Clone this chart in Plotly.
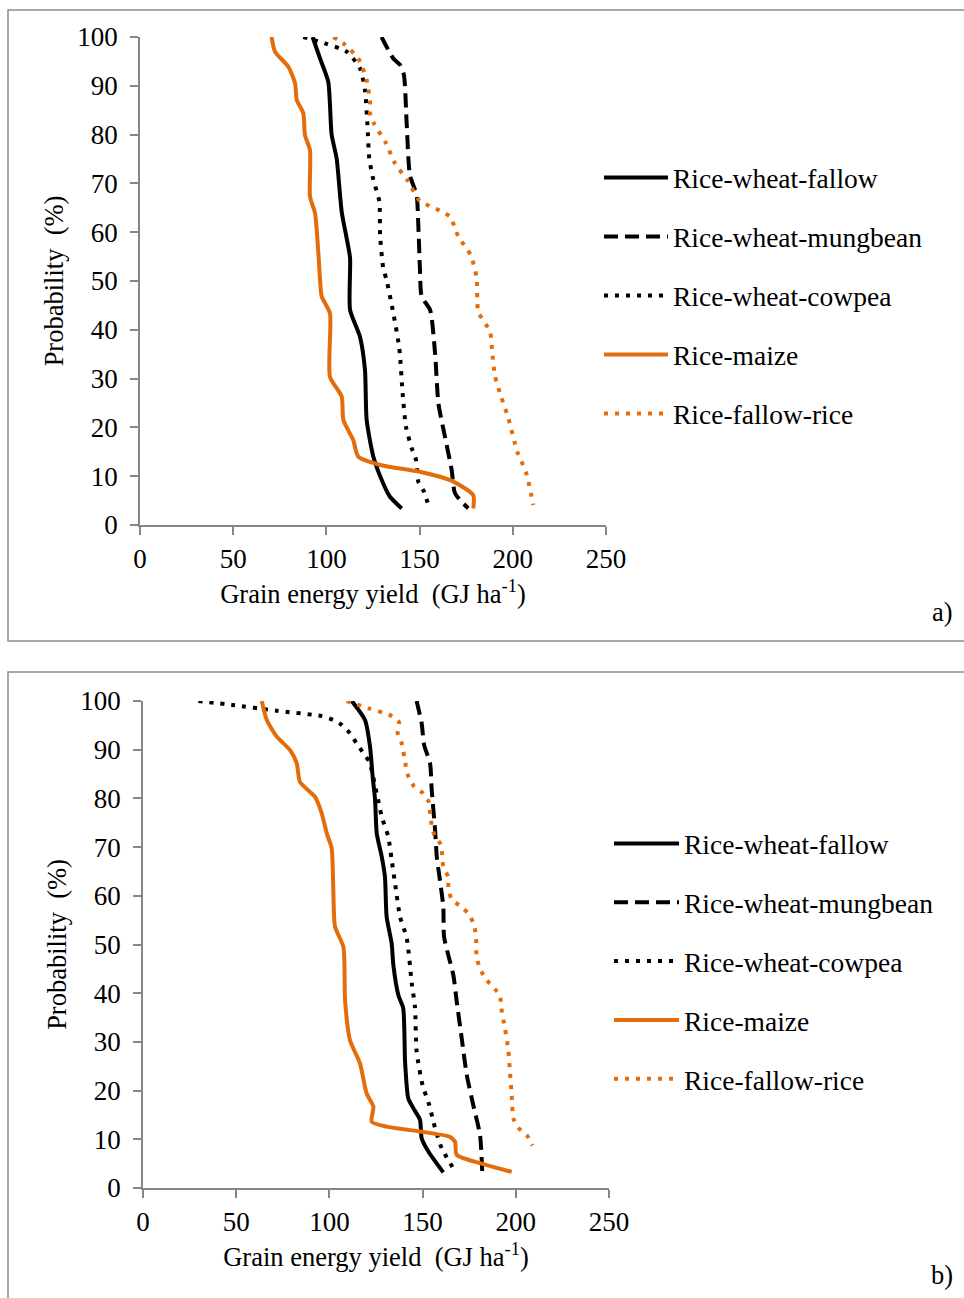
import plotly.graph_objects as go

# ---------------- data ----------------
series_names = ["Rice-wheat-fallow", "Rice-wheat-mungbean", "Rice-wheat-cowpea",
                "Rice-maize", "Rice-fallow-rice"]
x_ticks = [0, 50, 100, 150, 200, 250]
y_ticks = [0, 10, 20, 30, 40, 50, 60, 70, 80, 90, 100]

# panel a)
a_rwf_yield = [92.6, 96.6, 101, 102.8, 105.5, 108.2, 110.9, 112.7, 112.7, 118, 120.7, 121.6, 125.2, 130.5, 134.1, 140.4]
a_rwf_prob = [100, 95.6, 90.8, 80, 75.1, 64.2, 58.7, 54.7, 44.1, 38.6, 31.8, 21.5, 14, 8.5, 5.8, 3.4]

a_rwm_yield = [129.6, 132.3, 135.9, 139.5, 141.6, 143.1, 144.8, 148.4, 149.3, 150.2, 151.1, 155.6, 158.3, 160.1, 163.6, 167.2, 169, 176.1]
a_rwm_prob = [100, 98, 95.6, 94.3, 92.2, 82, 71.7, 67.6, 61.5, 52.3, 46.8, 44.1, 35.2, 24.9, 18.1, 11.3, 6.5, 3.4]

a_rwc_yield = [87.6, 99.2, 110.9, 118, 120.7, 122, 123, 125.2, 128.4, 128.8, 130.5, 132.3, 135.9, 139.1, 140.9, 142.7, 145.8, 148.1, 149.3, 152.4, 154.3]
a_rwc_prob = [100, 98.7, 97, 93.6, 89.1, 82, 75.1, 70.7, 66.3, 59.4, 52.6, 50.2, 43.4, 36.2, 27, 20.1, 15.7, 13.3, 8.9, 6.8, 4.6]

a_rm_yield = [70.6, 72.4, 79.6, 83.2, 84.1, 87.6, 88.5, 91.2, 91.2, 93.9, 95.7, 96.6, 97.5, 101.9, 101.9, 108.2, 109.1, 114.4, 117.1, 128.8, 150.2, 168.1, 178.8, 178.8]
a_rm_prob = [100, 97, 93.9, 90.5, 87.1, 84.4, 79.9, 76.8, 67.3, 63.9, 55.7, 50.2, 46.8, 43.4, 30.4, 26.3, 21.5, 17.4, 14, 12.3, 10.9, 8.9, 6.1, 3.4]

a_rfr_yield = [103.7, 109.1, 117.1, 121.6, 123.4, 123.4, 125.5, 132, 136.8, 143.9, 149.9, 160.9, 166.3, 170.8, 177.4, 180.6, 181.5, 187.8, 189, 190.5, 194, 197.6, 202.4, 207.1, 211]
a_rfr_prob = [100, 98.7, 95.6, 91.2, 86.7, 84.4, 82.3, 78.2, 74.1, 70.4, 66.5, 64.4, 63.2, 59.1, 55.3, 50.7, 43.7, 39.6, 35.2, 30.4, 26, 21.9, 15, 10.8, 4.1]

# panel b)
b_rwf_yield = [112, 119.1, 121.8, 123.2, 124.5, 125.4, 128.1, 129.8, 130.7, 133.4, 134.3, 137, 139.6, 140.6, 142.3, 145, 148.6, 149.5, 153.1, 161.1]
b_rwf_prob = [100, 96.1, 90.6, 84.5, 79.7, 72.8, 68, 63.9, 55.7, 50.2, 45.8, 39.6, 36.9, 25.9, 18.4, 16.4, 14, 10.2, 7.5, 3.2]

b_rwm_yield = [146.8, 149.5, 150.8, 154, 154.9, 156.7, 157.6, 159.3, 161.1, 161.5, 163.8, 166.5, 168.3, 171, 173.7, 177.2, 180.8, 182]
b_rwm_prob = [100, 95.4, 91, 87.2, 81.7, 73.5, 68, 63.2, 57.8, 51.6, 47.8, 43.7, 38.3, 30.7, 23.2, 17, 10.9, 3.3]

b_rwc_yield = [29.7, 47.6, 71.7, 95.9, 102.1, 106.6, 111, 114.6, 118.2, 121.4, 125.4, 128.1, 131.6, 133.4, 135.2, 137.9, 141.5, 144.2, 145.9, 146.8, 150, 153.6, 156.7, 160.2, 166.5]
b_rwc_prob = [100, 99.2, 98, 96.9, 96.1, 95.1, 93.4, 91.3, 89.3, 87.5, 81, 76.2, 72.1, 67.4, 62.6, 55.7, 51.3, 42, 37.2, 28, 21.1, 17, 12.3, 8.2, 4]

b_rm_yield = [63.7, 66.4, 71.7, 78.9, 82.5, 84.2, 92.3, 95.9, 98.6, 101.2, 102.1, 103, 107.5, 108.4, 111, 116.4, 120, 123.6, 122.7, 130.7, 148.6, 164.7, 167.4, 168.3, 180.8, 197.8]
b_rm_prob = [100, 96.1, 92.7, 89.9, 87.2, 83.4, 80.3, 76.9, 72.8, 69.8, 61.2, 53.7, 49.5, 38.6, 30.4, 25.6, 19.4, 16.7, 13.6, 12.6, 11.6, 10.5, 9.5, 6.8, 5.1, 3.3]

b_rfr_yield = [109.3, 120.9, 132.5, 137.3, 136.6, 138.8, 140.9, 142.3, 145.4, 150.4, 153.4, 154, 154.9, 156.3, 159.9, 161.1, 163.8, 163.8, 165.6, 170.1, 174.5, 177.2, 178.6, 179, 180.8, 183.5, 187.6, 191.5, 192.1, 194.2, 196, 196.9, 197.8, 198.7, 201.3, 205.8, 208.9]
b_rfr_prob = [100, 98.5, 97.1, 95.7, 93.5, 91.3, 86.9, 84.6, 82.5, 81, 79.2, 76.9, 74.5, 72.5, 70.4, 66, 63.8, 61.5, 59.3, 57.9, 56.4, 54.4, 52, 47.3, 45.1, 43.1, 41.3, 39.6, 37.2, 32.8, 28.3, 23.6, 19.1, 14.3, 12.4, 10.9, 8.7]

# ---------------- styles ----------------
BLACK = "#000000"
ORANGE = "#E46C0A"
AXIS = "#868686"
FONT = "Liberation Serif"
FS_TICK = 27
FS_TITLE = 26.5
FS_LEG = 27.5
W, H = 964, 1298

styles = [
    dict(color=BLACK, width=4, dash="solid"),
    dict(color=BLACK, width=4, dash="14px,7px"),
    dict(color=BLACK, width=4, dash="4px,7px"),
    dict(color=ORANGE, width=4, dash="solid"),
    dict(color=ORANGE, width=4, dash="4px,7px"),
]

panel_a = [(a_rwf_yield, a_rwf_prob), (a_rwm_yield, a_rwm_prob), (a_rwc_yield, a_rwc_prob),
           (a_rm_yield, a_rm_prob), (a_rfr_yield, a_rfr_prob)]
panel_b = [(b_rwf_yield, b_rwf_prob), (b_rwm_yield, b_rwm_prob), (b_rwc_yield, b_rwc_prob),
           (b_rm_yield, b_rm_prob), (b_rfr_yield, b_rfr_prob)]

fig = go.Figure()
for i, (xs, ys) in enumerate(panel_a):
    fig.add_trace(go.Scatter(x=xs, y=ys, mode="lines", name=series_names[i],
                             line=dict(shape="spline", smoothing=0.6, **styles[i]),
                             xaxis="x", yaxis="y", legend="legend",
                             legendgroup="a%d" % i))
for i, (xs, ys) in enumerate(panel_b):
    fig.add_trace(go.Scatter(x=xs, y=ys, mode="lines", name=series_names[i],
                             line=dict(shape="spline", smoothing=0.6, **styles[i]),
                             xaxis="x2", yaxis="y2", legend="legend2",
                             legendgroup="b%d" % i))


def px(x):
    return x / W


def py(y):
    return 1 - y / H


axis_common = dict(showline=True, linecolor=AXIS, linewidth=1.5, ticks="outside",
                   ticklen=8, tickcolor=AXIS, tickwidth=1.5, showgrid=False,
                   zeroline=False, tickfont=dict(family=FONT, size=FS_TICK, color="black"),
                   fixedrange=True, automargin=False)

title_x = dict(text="Grain energy yield  (GJ ha<sup>-1</sup>)",
               font=dict(family=FONT, size=FS_TITLE, color="black"), standoff=11)
title_y = dict(text="Probability\u00a0\u00a0(%)",
               font=dict(family=FONT, size=FS_TITLE, color="black"), standoff=6)

fig.update_layout(
    width=W, height=H, autosize=False,
    margin=dict(l=0, r=0, t=0, b=0, autoexpand=False),
    paper_bgcolor="white", plot_bgcolor="white",
    font=dict(family=FONT, size=FS_TICK, color="black"),
    xaxis=dict(domain=[px(140), px(606)], range=[0, 250], tickvals=x_ticks,
               anchor="y", title=title_x, ticklabelstandoff=1, **axis_common),
    yaxis=dict(domain=[py(525), py(37)], range=[0, 100], tickvals=y_ticks,
               anchor="x", title=title_y, ticklabelstandoff=7, **axis_common),
    xaxis2=dict(domain=[px(143), px(609)], range=[0, 250], tickvals=x_ticks,
                anchor="y2", title=title_x, ticklabelstandoff=1, **axis_common),
    yaxis2=dict(domain=[py(1188), py(701)], range=[0, 100], tickvals=y_ticks,
                anchor="x2", title=title_y, ticklabelstandoff=7, **axis_common),
    legend=dict(x=px(599), y=py(153), xanchor="left", yanchor="top",
                font=dict(family=FONT, size=FS_LEG, color="black"),
                tracegroupgap=20.3, bgcolor="rgba(0,0,0,0)", itemwidth=64),
    legend2=dict(x=px(609), y=py(819), xanchor="left", yanchor="top",
                 font=dict(family=FONT, size=FS_LEG, color="black"),
                 tracegroupgap=20.1, bgcolor="rgba(0,0,0,0)", itemwidth=65),
    shapes=[
        dict(type="rect", xref="paper", yref="paper", x0=px(8), x1=px(980),
             y0=py(641), y1=py(10), line=dict(color="#8c8c8c", width=1.5)),
        dict(type="rect", xref="paper", yref="paper", x0=px(8), x1=px(980),
             y0=py(1310), y1=py(672), line=dict(color="#8c8c8c", width=1.5)),
    ],
    annotations=[
        dict(text="a)", xref="paper", yref="paper", x=px(955), y=py(612),
             xanchor="right", yanchor="middle", showarrow=False,
             font=dict(family=FONT, size=FS_TITLE, color="black")),
        dict(text="b)", xref="paper", yref="paper", x=px(955), y=py(1275),
             xanchor="right", yanchor="middle", showarrow=False,
             font=dict(family=FONT, size=FS_TITLE, color="black")),
    ],
)

fig.write_html(
    "out.html",
    config={"displayModeBar": False},
    post_script="document.body.style.margin='0px';"
                "document.documentElement.style.overflow='hidden';"
                "document.body.style.overflow='hidden';",
)
